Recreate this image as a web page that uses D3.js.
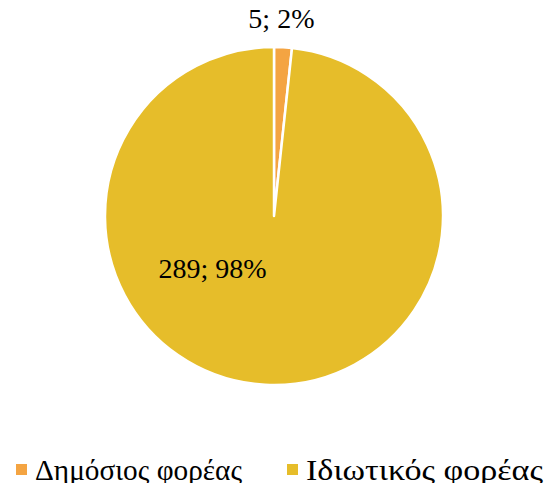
<!DOCTYPE html>
<html>
<head>
<meta charset="utf-8">
<script src="https://cdn.jsdelivr.net/npm/d3@7"></script>
<style>
  html, body { margin: 0; padding: 0; background: #fff; }
  svg { display: block; }
  text { font-family: "Liberation Serif", "DejaVu Serif", serif; fill: #000; }
</style>
</head>
<body>
<svg id="chart" width="546" height="483"></svg>
<script>
// data
var categories = ["Δημόσιος φορέας", "Ιδιωτικός φορέας"];
var values = [5, 289];
var percents = ["2%", "98%"];
var colors = ["#F4A442", "#E6BD2A"];

var W = 546, H = 483, cx = 274, cy = 216, R = 169;
var svg = d3.select("#chart");

var rows = categories.map(function(c, i){
    return {name: c, value: values[i], pct: percents[i], color: colors[i]};
});

var pie = d3.pie().sort(null).value(function(d){ return d.value; });
var arc = d3.arc().innerRadius(0).outerRadius(R);
var arcs = pie(rows);

var g = svg.append("g").attr("transform", "translate(" + cx + "," + cy + ")");
g.selectAll("path.slice")
    .data(arcs).enter()
    .append("path").attr("class", "slice")
    .attr("d", arc)
    .attr("fill", function(d){ return d.data.color; })
    .attr("stroke", "#fff")
    .attr("stroke-width", 2.5)
    .attr("stroke-linejoin", "round");

// data labels: small slice sits above the pie, big slice label sits
// lower-left inside (like the "best fit" placement of the original)
var outLabel = d3.arc().innerRadius(R + 26).outerRadius(R + 26);
function labelPos(d, i){
    if (i === 0) {
        var p = outLabel.centroid(d);
        return [p[0] - 3, p[1]];
    }
    return d3.pointRadial(228 * Math.PI / 180, R * 0.49);
}
g.selectAll("text.lbl")
    .data(arcs).enter()
    .append("text").attr("class", "lbl")
    .attr("transform", function(d, i){
        var p = labelPos(d, i);
        return "translate(" + p[0] + "," + p[1] + ")";
    })
    .attr("text-anchor", "middle")
    .attr("dominant-baseline", "middle")
    .style("font-size", "28px")
    .text(function(d){ return d.data.value + "; " + d.data.pct; });

// legend (text widths stretched a bit to match the wider original face)
var legendX = [16, 287], legendW = [207, 237];
var legend = svg.append("g").attr("class", "legend");
legend.selectAll("g.item")
    .data(rows).enter()
    .append("g").attr("class", "item")
    .each(function(d, i){
        var it = d3.select(this);
        it.append("rect")
            .attr("x", legendX[i]).attr("y", 464)
            .attr("width", 11).attr("height", 11)
            .attr("fill", d.color);
        it.append("text")
            .attr("x", legendX[i] + 19).attr("y", 480)
            .attr("textLength", legendW[i])
            .attr("lengthAdjust", "spacingAndGlyphs")
            .style("font-size", "29px")
            .text(d.name);
    });
</script>
</body>
</html>
